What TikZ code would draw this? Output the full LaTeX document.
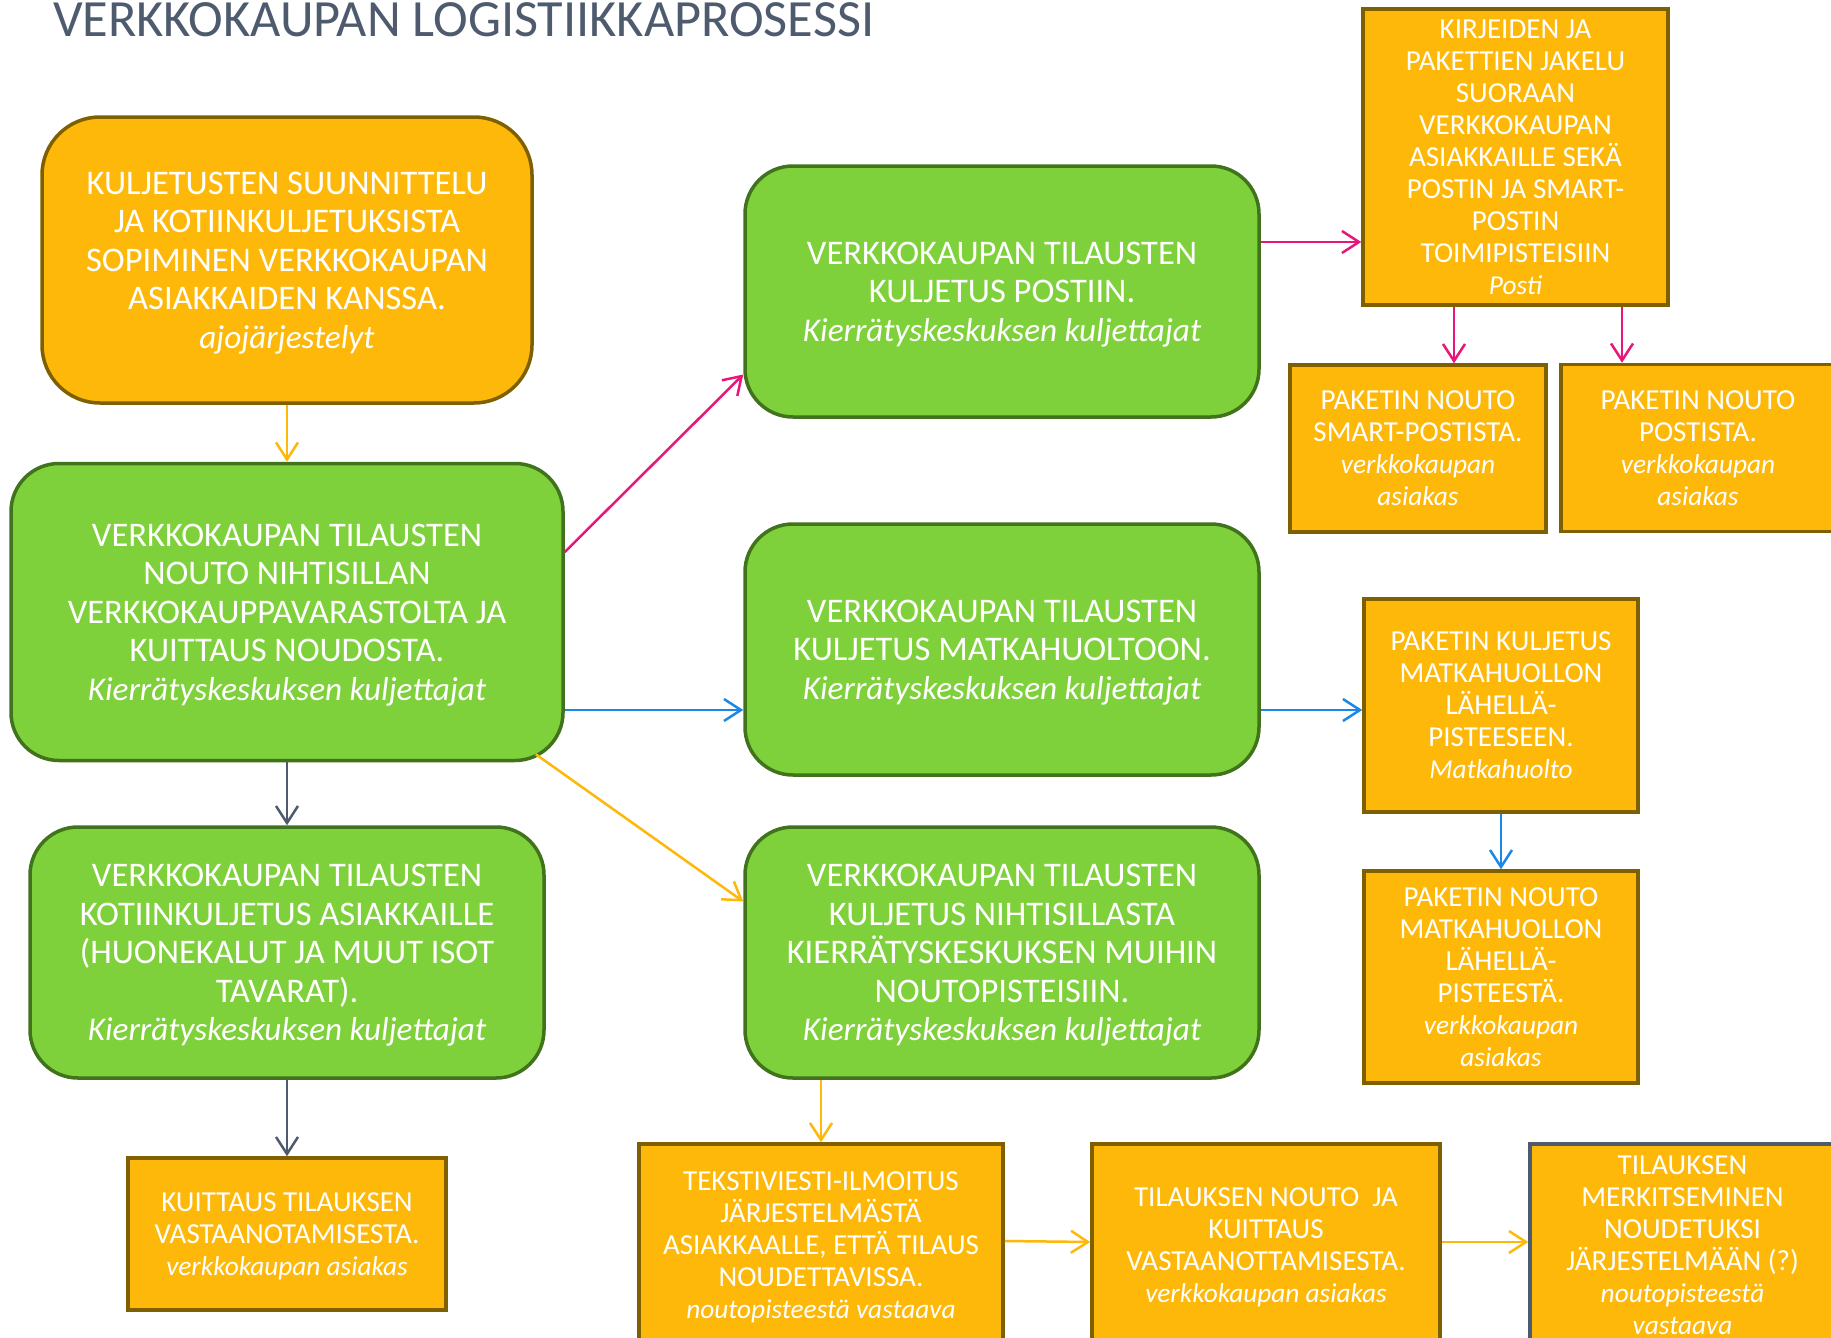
\documentclass[tikz,border=0pt]{standalone}
\usepackage{fontspec}
\setmainfont{Carlito}
\usetikzlibrary{arrows.meta}
\definecolor{orfill}{HTML}{FEB80A}
\definecolor{ordraw}{HTML}{7F6000}
\definecolor{grfill}{HTML}{7FD13B}
\definecolor{grdraw}{HTML}{41721C}
\definecolor{pinkc}{HTML}{EA157A}
\definecolor{bluec}{HTML}{1B87E6}
\definecolor{slate}{HTML}{4E5B6F}
\newcommand{\italbig}[1]{{\fontsize{33.2}{38.5}\selectfont\itshape #1}}
\newcommand{\italsmall}[1]{{\fontsize{27.3}{32}\selectfont\itshape #1}}
\tikzset{
  box/.style={draw, line width=3.5pt, inner sep=0pt, align=center, text=white, text depth=0pt},
  obox/.style={box, fill=orfill, draw=ordraw, font=\fontsize{29}{32}\selectfont},
  gbox/.style={box, fill=grfill, draw=grdraw, rounded corners=48pt, font=\fontsize{34.5}{38.5}\selectfont},
  obig/.style={box, fill=orfill, draw=ordraw, rounded corners=58pt, font=\fontsize{34.5}{38.5}\selectfont},
  conn/.style={line width=2.5pt, -{Straight Barb[length=17pt,width=22pt]}},
}
\begin{document}
\begin{tikzpicture}[x=1pt,y=-1pt]
\useasboundingbox (0,0) rectangle (1831,1338);
\clip (0,0) rectangle (1831,1338);
\fill[white] (0,0) rectangle (1831,1338);

\node[anchor=base west, inner sep=0pt, text=slate, font=\fontsize{52.3}{60}\selectfont] (T) at (53,37) {VERKKOKAUPAN LOGISTIIKKAPROSESSI};

\node[obig, minimum width=490pt, minimum height=286pt] (A) at (287,260)
  {KULJETUSTEN SUUNNITTELU\\JA KOTIINKULJETUKSISTA\\SOPIMINEN VERKKOKAUPAN\\ASIAKKAIDEN KANSSA.\\\italbig{ajojärjestelyt}};
\node[gbox, minimum width=552pt, minimum height=297pt] (B) at (287,612)
  {VERKKOKAUPAN TILAUSTEN\\NOUTO NIHTISILLAN\\VERKKOKAUPPAVARASTOLTA JA\\KUITTAUS NOUDOSTA.\\\italbig{Kierrätyskeskuksen kuljettajat}};
\node[gbox, minimum width=514pt, minimum height=251pt] (C) at (287,952.5)
  {VERKKOKAUPAN TILAUSTEN\\KOTIINKULJETUS ASIAKKAILLE\\(HUONEKALUT JA MUUT ISOT\\TAVARAT).\\\italbig{Kierrätyskeskuksen kuljettajat}};
\node[obox, minimum width=318pt, minimum height=152pt] (D) at (287,1234)
  {KUITTAUS TILAUKSEN\\VASTAANOTAMISESTA.\\\italsmall{verkkokaupan asiakas}};

\node[gbox, minimum width=514pt, minimum height=251pt] (E) at (1002,291.5)
  {VERKKOKAUPAN TILAUSTEN\\KULJETUS POSTIIN.\\\italbig{Kierrätyskeskuksen kuljettajat}};
\node[gbox, minimum width=514pt, minimum height=251pt] (F) at (1002,649.5)
  {VERKKOKAUPAN TILAUSTEN\\KULJETUS MATKAHUOLTOON.\\\italbig{Kierrätyskeskuksen kuljettajat}};
\node[gbox, minimum width=514pt, minimum height=251pt] (G) at (1002,952.5)
  {VERKKOKAUPAN TILAUSTEN\\KULJETUS NIHTISILLASTA\\KIERRÄTYSKESKUKSEN MUIHIN\\NOUTOPISTEISIIN.\\\italbig{Kierrätyskeskuksen kuljettajat}};

\node[obox, minimum width=305pt, minimum height=296pt] (H) at (1515.5,157)
  {KIRJEIDEN JA\\PAKETTIEN JAKELU\\SUORAAN\\VERKKOKAUPAN\\ASIAKKAILLE SEKÄ\\POSTIN JA SMART-\\POSTIN\\TOIMIPISTEISIIN\\\italsmall{Posti}};
\node[obox, minimum width=256pt, minimum height=167pt] (I) at (1418,448.5)
  {PAKETIN NOUTO\\SMART-POSTISTA.\\\italsmall{verkkokaupan}\\\italsmall{asiakas}};
\node[obox, minimum width=274pt, minimum height=167pt] (J) at (1698,448)
  {PAKETIN NOUTO\\POSTISTA.\\\italsmall{verkkokaupan}\\\italsmall{asiakas}};
\node[obox, minimum width=274pt, minimum height=213pt] (K) at (1501,705.5)
  {PAKETIN KULJETUS\\MATKAHUOLLON\\LÄHELLÄ-\\PISTEESEEN.\\\italsmall{Matkahuolto}};
\node[obox, minimum width=274pt, minimum height=212pt] (L) at (1501,977)
  {PAKETIN NOUTO\\MATKAHUOLLON\\LÄHELLÄ-\\PISTEESTÄ.\\\italsmall{verkkokaupan}\\\italsmall{asiakas}};

\node[obox, minimum width=364pt, minimum height=202pt] (M) at (821,1245)
  {TEKSTIVIESTI-ILMOITUS\\JÄRJESTELMÄSTÄ\\ASIAKKAALLE, ETTÄ TILAUS\\NOUDETTAVISSA.\\\italsmall{noutopisteestä vastaava}};
\node[obox, minimum width=348pt, minimum height=202pt] (N) at (1266,1245)
  {TILAUKSEN NOUTO\ \ JA\\KUITTAUS\\VASTAANOTTAMISESTA.\\\italsmall{verkkokaupan asiakas}};
\node[obox, draw=slate, minimum width=305pt, minimum height=202pt] (O) at (1682.5,1245)
  {TILAUKSEN\\MERKITSEMINEN\\NOUDETUKSI\\JÄRJESTELMÄÄN (?)\\\italsmall{noutopisteestä}\\\italsmall{vastaava}};

% connectors
\draw[conn, draw=orfill] (A.south) -- (B.north);
\draw[conn, draw=pinkc] ([yshift=60pt]B.east) -- ([yshift=-83pt]E.west);
\draw[conn, draw=bluec] ([yshift=-98pt]B.east) -- ([yshift=-98pt]B.east -| F.west);
\draw[conn, draw=orfill] ([xshift=-29pt,yshift=8pt]B.south east) -- ([yshift=51pt]G.west);
\draw[conn, draw=slate] (B.south) -- (C.north);
\draw[conn, draw=slate] (C.south) -- (D.north);
\draw[conn, draw=pinkc] ([yshift=49.5pt]E.east) -- ([yshift=49.5pt]E.east -| H.west);
\draw[conn, draw=pinkc] ([xshift=-61.5pt]H.south) -- ([xshift=-61.5pt]H.south |- I.north);
\draw[conn, draw=pinkc] ([xshift=106.5pt]H.south) -- ([xshift=106.5pt]H.south |- J.north);
\draw[conn, draw=bluec] ([yshift=-60.5pt]F.east) -- ([yshift=-60.5pt]F.east -| K.west);
\draw[conn, draw=bluec] (K.south) -- (L.north);
\draw[conn, draw=orfill] (M.north |- G.south) -- (M.north);
\draw[conn, draw=orfill] ([yshift=4pt]M.east) -- ([yshift=3pt]N.west);
\draw[conn, draw=orfill] ([yshift=3pt]N.east) -- ([yshift=3pt]O.west);
\end{tikzpicture}
\end{document}
